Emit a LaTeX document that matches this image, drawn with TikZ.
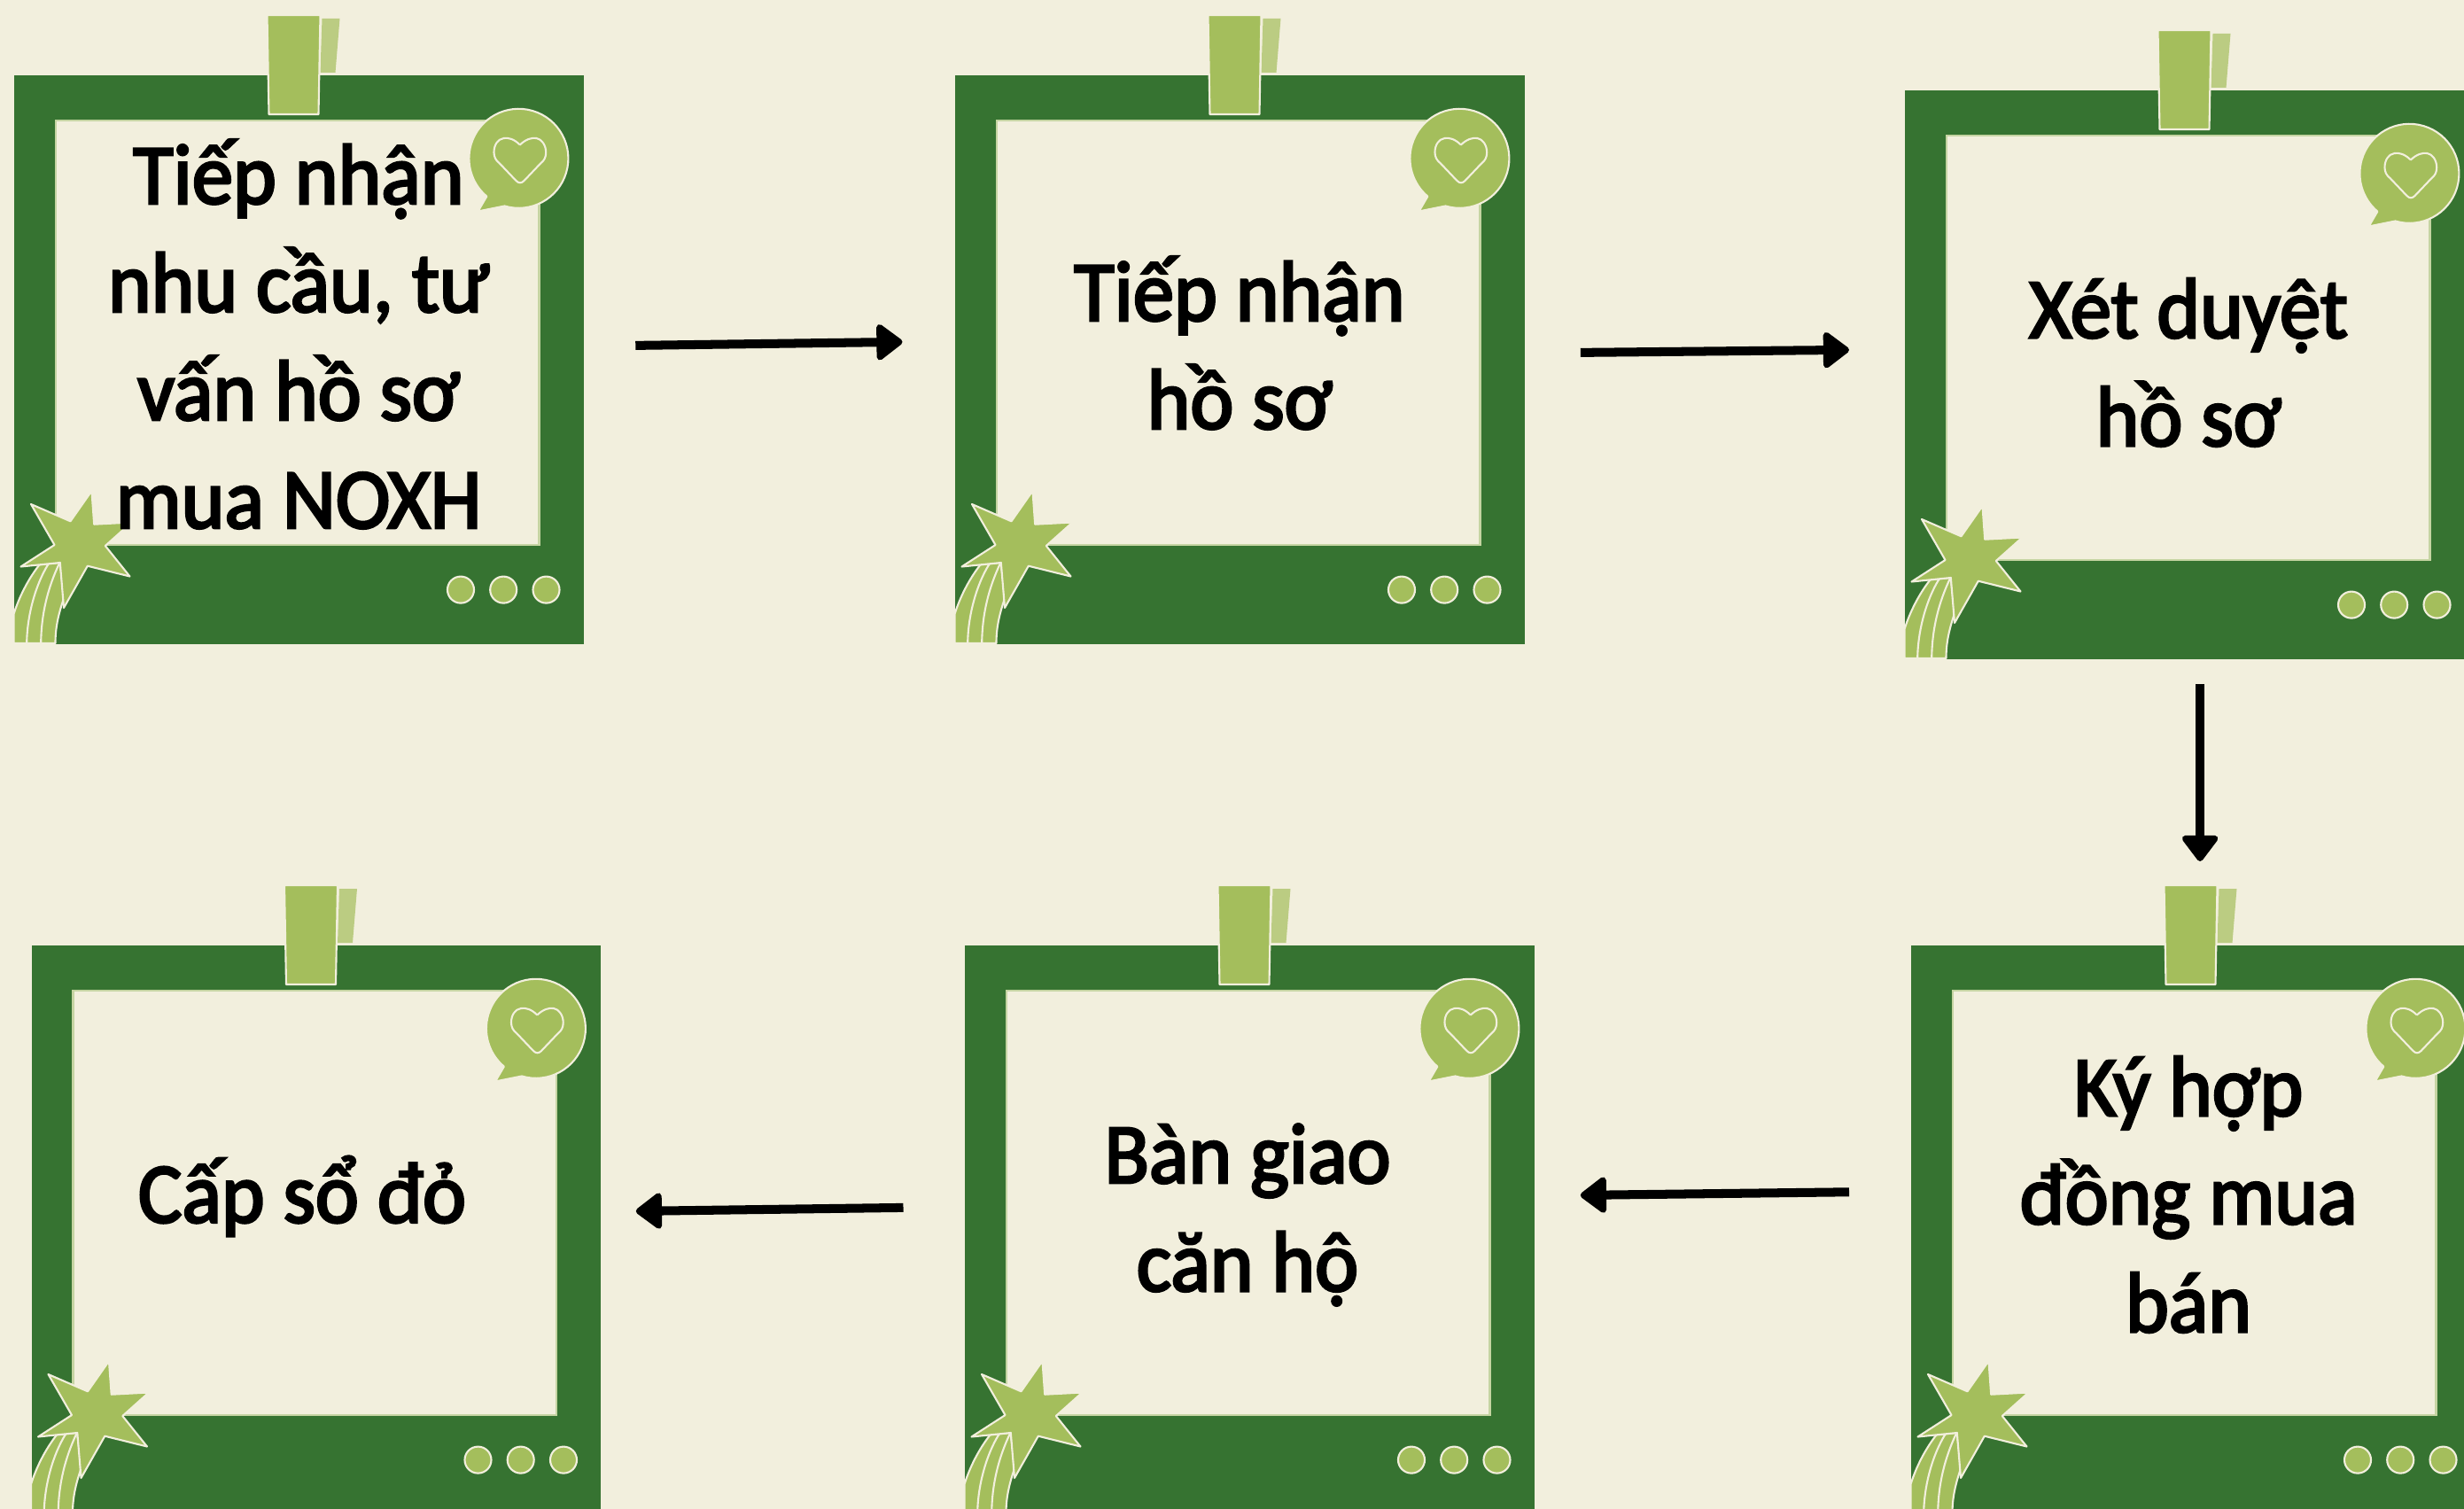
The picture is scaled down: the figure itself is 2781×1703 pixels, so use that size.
\documentclass[tikz,border=0pt]{standalone}
\usepackage{fontspec}
\usepackage{xcolor}
\newfontfamily\cardfont{Carlito}[FakeBold=3, FakeStretch=0.96]
\usetikzlibrary{positioning, arrows.meta, calc}

\definecolor{paper}{HTML}{F2EFDD}
\definecolor{forest}{HTML}{367331}
\definecolor{leaf}{HTML}{A4BE5C}
\definecolor{paleleaf}{HTML}{BBCC82}
\definecolor{rim}{HTML}{C5D4A2}

\tikzset{
  cardframe/.style={fill=forest, anchor=north west, minimum size=6.42cm, inner sep=0pt},
  cardtext/.style={align=center, text=black, font=\cardfont\fontsize{27.5}{34.7}\selectfont},
  flowarrow/.style={line width=2.85pt, -{Triangle[round, length=9pt, width=13pt, line width=2pt, sep=0pt]}},
  edgeline/.style={draw=paper, line width=0.6pt, line join=round},
  carddeco/.pic={
    % Inner window
    \draw[rim, fill=paper, line width=0.6pt] (47.5,-52) rectangle (593,-531);
    % Tape
    \fill[paleleaf] (348,63) -- (368,63) -- (363,2) -- (346,2) -- cycle;
    \draw[edgeline, fill=leaf] (286,67) -- (346,67) -- (344,-45) -- (288,-45) -- cycle;
    % Speech bubble with heart
    \draw[edgeline, fill=leaf] (554,-148.5) arc (253.5:589.9:56) -- (524,-154.5) -- cycle;
    \draw[edgeline] (571.3,-79.5) .. controls (565,-73) and (558,-71) .. (553,-72)
      .. controls (546,-73) and (542,-80) .. (542,-88)
      .. controls (542,-93) and (544,-97) .. (548,-100)
      -- (567,-120) .. controls (570,-123) and (573,-123) .. (576,-120)
      -- (595,-100) .. controls (599,-97) and (600.7,-93) .. (600.7,-88)
      .. controls (600.7,-80) and (596,-73) .. (590,-72)
      .. controls (585,-71) and (578,-73) .. (571.3,-79.5);
    % Dots
    \draw[edgeline, fill=leaf] (504.5,-581.6) circle (15);
    \draw[edgeline, fill=leaf] (552.7,-581.6) circle (15);
    \draw[edgeline, fill=leaf] (601,-581.6) circle (15);
    % Star tail
    \draw[edgeline, fill=leaf] (0,-642) -- (0,-609) .. controls (6,-590) and (16,-570) .. (29,-553.3)
      -- (52,-551) -- (57,-590) .. controls (50,-610) and (47,-625) .. (47,-642) -- cycle;
    \draw[edgeline] (14.7,-642) .. controls (15,-610) and (25,-575) .. (39,-552.7);
    \draw[edgeline] (30.7,-642) .. controls (31,-610) and (38,-580) .. (51.7,-551.3);
    % Star
    \draw[edgeline, fill=leaf] (88,-470) -- (90.7,-507.7) -- (133,-505.5) -- (103.3,-532)
      -- (131,-566.5) -- (83.3,-554.7) -- (56.5,-602) -- (52.3,-551) -- (8,-555.5)
      -- (46,-531) -- (19.5,-485) -- (64,-504.3) -- cycle;
  }
}

\begin{document}
\begin{tikzpicture}[x=0.01cm, y=0.01cm]

% Page
\useasboundingbox (0,0) rectangle (2781,-1703);
\clip (0,0) rectangle (2781,-1703);
\fill[paper] (0,0) rectangle (2781,-1703);

% Define cards
\node[cardframe] (card1) at (15.5,-84) {};
\node[cardframe] (card2) at (1077.5,-84) {};
\node[cardframe] (card3) at (2149.5,-101) {};
\node[cardframe] (card4) at (2156.5,-1066) {};
\node[cardframe] (card5) at (1088.5,-1066) {};
\node[cardframe] (card6) at (35,-1066) {};

% Card decoration
\pic at (card1.north west) {carddeco};
\pic at (card2.north west) {carddeco};
\pic at (card3.north west) {carddeco};
\pic at (card4.north west) {carddeco};
\pic at (card5.north west) {carddeco};
\pic at (card6.north west) {carddeco};

% Card labels
\node[cardtext] (text1) at (337,-377) {Tiếp nhận\\nhu cầu, tư\\vấn hồ sơ\\mua NOXH};
\node[cardtext] (text2) at (1399,-387) {Tiếp nhận\\hồ sơ};
\node[cardtext] (text3) at (2470,-409) {Xét duyệt\\hồ sơ};
\node[cardtext] (text4) at (2470,-1348) {Ký hợp\\đồng mua\\bán};
\node[cardtext] (text5) at (1408,-1371) {Bàn giao\\căn hộ};
\node[cardtext] (text6) at (341,-1350) {Cấp sổ đỏ};

% Connections between cards
\draw[flowarrow] ($(card1.east)+(58,16)$) -- ($(card2.west)+(-59,20)$);
\draw[flowarrow] ($(card2.east)+(62.5,8)$) -- ($(card3.west)+(-62.5,28)$);
\draw[flowarrow] ($(card3.south)+(11.7,-27)$) -- ($(card4.north)+(4.7,94)$);
\draw[flowarrow] ($(card4.west)+(-69.5,42.6)$) -- ($(card5.east)+(51.5,39)$);
\draw[flowarrow] ($(card5.west)+(-69,25)$) -- ($(card6.east)+(39,21)$);

\end{tikzpicture}
\end{document}
